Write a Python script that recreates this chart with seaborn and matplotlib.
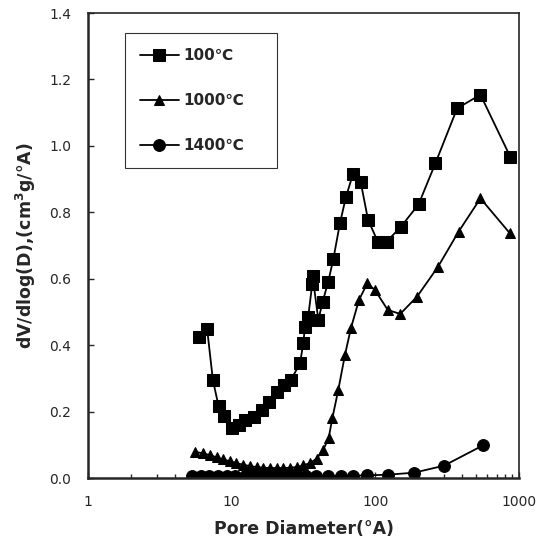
import numpy as np
import pandas as pd
import seaborn as sns
import matplotlib.pyplot as plt
from matplotlib.ticker import FixedLocator, LogLocator, NullFormatter

# 100 C series (squares)
d100 = [5.97, 6.75, 7.4, 8.1, 8.87, 10.0, 11.2, 12.4, 14.2, 16.2, 18.1, 20.6, 23.2, 25.8,
        29.9, 31.5, 32.4, 34.1, 36.4, 36.6, 40.1, 43.0, 47.0, 51.0, 56.7, 62.5, 70, 79, 89,
        104, 120, 151, 200, 262, 371, 539, 872]
v100 = [0.426, 0.448, 0.295, 0.217, 0.187, 0.150, 0.160, 0.175, 0.185, 0.205, 0.230, 0.260,
        0.280, 0.295, 0.345, 0.406, 0.456, 0.486, 0.585, 0.608, 0.476, 0.531, 0.591, 0.659,
        0.767, 0.847, 0.916, 0.892, 0.777, 0.712, 0.712, 0.757, 0.824, 0.948, 1.113, 1.154,
        0.966]

# 1000 C series (triangles)
d1000 = [5.55, 6.35, 7.05, 7.86, 8.75, 9.73, 10.8, 12.0, 13.4, 14.9, 16.6, 18.5, 20.6, 22.9,
         25.5, 28.3, 31.5, 35.0, 39.0, 43.4, 47.3, 50.2, 55.2, 61.4, 67.6, 76.9, 87.9, 99.4,
         122, 149, 195, 273, 380, 539, 863]
v1000 = [0.079, 0.074, 0.069, 0.062, 0.056, 0.050, 0.045, 0.040, 0.036, 0.033, 0.031, 0.030,
         0.030, 0.030, 0.031, 0.033, 0.038, 0.045, 0.058, 0.085, 0.120, 0.180, 0.265, 0.370,
         0.451, 0.536, 0.586, 0.566, 0.506, 0.494, 0.546, 0.636, 0.742, 0.842, 0.737]

# 1400 C series (circles)
d1400 = [5.3, 6.08, 7.0, 8.05, 9.3, 10.6, 12.3, 14.1, 16.2, 18.7, 21.5, 24.7, 28.4, 32.7,
         38.7, 47.1, 57.3, 69.7, 87.2, 122, 186, 300, 560]
v1400 = [0.006, 0.006, 0.006, 0.006, 0.006, 0.006, 0.006, 0.006, 0.006, 0.006, 0.006, 0.006,
         0.006, 0.006, 0.006, 0.006, 0.006, 0.007, 0.008, 0.010, 0.016, 0.037, 0.098]

labels = ['100\u2103', '1000\u2103', '1400\u2103']
x_ticks = [1, 10, 100, 1000]
y_ticks = [0.0, 0.2, 0.4, 0.6, 0.8, 1.0, 1.2, 1.4]

df = pd.concat([
    pd.DataFrame({'D': d100, 'v': v100, 'T': labels[0]}),
    pd.DataFrame({'D': d1000, 'v': v1000, 'T': labels[1]}),
    pd.DataFrame({'D': d1400, 'v': v1400, 'T': labels[2]}),
], ignore_index=True)

sns.set_style('ticks')
plt.rcParams['font.family'] = ['DejaVu Sans']
plt.rcParams['mathtext.default'] = 'regular'

fig = plt.figure(figsize=(5.48, 5.38), dpi=100)
ax = fig.add_axes([0.1606, 0.1115, 0.7865, 0.8643])

markers = {labels[0]: 's', labels[1]: '^', labels[2]: 'o'}
sizes = {labels[0]: 9, labels[1]: 7.5, labels[2]: 8.5}
for lab in labels:
    sub = df[df['T'] == lab]
    sns.lineplot(data=sub, x='D', y='v', ax=ax, sort=False, estimator=None,
                 color='black', linewidth=1.3, marker=markers[lab],
                 markersize=sizes[lab], markeredgecolor='black', label=lab)

ax.set_xscale('log')
ax.set_xlim(1, 1000)
ax.set_ylim(0, 1.4)
ax.xaxis.set_major_locator(FixedLocator(x_ticks))
ax.set_xticklabels([str(t) for t in x_ticks])
ax.xaxis.set_minor_locator(LogLocator(base=10, subs=np.arange(2, 10)))
ax.xaxis.set_minor_formatter(NullFormatter())
ax.set_yticks(y_ticks)
ax.set_yticklabels([f'{t:.1f}' for t in y_ticks])
ax.tick_params(axis='both', which='both', direction='in', labelsize=10, width=1)
ax.tick_params(axis='both', which='major', length=4, pad=12)
ax.tick_params(axis='x', which='minor', length=3)
for side in ['left', 'bottom']:
    ax.spines[side].set_linewidth(1.8)
for side in ['top', 'right']:
    ax.spines[side].set_linewidth(1.2)

ax.set_xlabel('Pore Diameter(\u00b0A)', fontsize=12.5, fontweight='bold', labelpad=8)
ax.set_ylabel('dV/dlog(D),(cm$^{3}$g/\u00b0A)', fontsize=12.5, fontweight='bold', labelpad=8)

leg = ax.legend(loc='upper left', bbox_to_anchor=(0.086, 0.665, 0.352, 0.292), mode='expand',
                frameon=True, fancybox=False, edgecolor='black', fontsize=11,
                labelspacing=1.95, handlelength=2.5, borderpad=1.0, handletextpad=0.3,
                borderaxespad=0)
leg.get_frame().set_linewidth(0.8)
for t in leg.get_texts():
    t.set_fontweight('bold')

fig.savefig('out.png', dpi=100)
